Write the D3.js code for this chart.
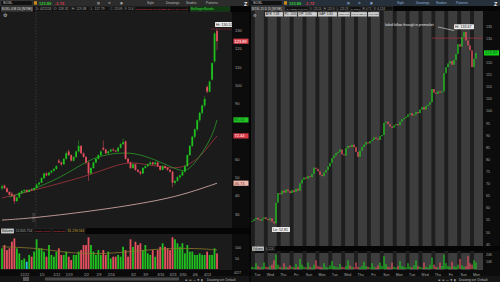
<!DOCTYPE html>
<html>
<head>
<meta charset="utf-8">
<script src="https://cdn.jsdelivr.net/npm/d3@7"></script>
<style>
  body { margin: 0; background: #000; }
  svg { display: block; font-family: "Liberation Sans", Arial, sans-serif; }
</style>
</head>
<body>
<div id="chart"></div>
<script>
// ---------- left chart: daily candles [open, high, low, close]
const dailyOHLC = [
  [44,46,43,45],[45.5,46,43.5,44],[44,44.5,41.5,42],[42,42.5,40,40.5],[41,42,39.5,40],
  [40,40.5,35.5,37],[37,39.5,36.5,39],[39,42,38.5,41.5],[41.5,43,41,42.5],[42.5,43.5,42,43],
  [43,43.5,41.5,42],[42,43.5,41.8,43],[43.3,44,42.5,43],[43,44.5,42.8,44],[44,46.5,43.8,46],
  [46,47.5,45.5,47],[47,50,46.8,49.5],[49.5,52.5,49,52],[52,52.8,50.5,51],[51,53,50.8,52.5],
  [52.5,54,52,53.5],[53.5,55,53,54.5],[54.5,56.5,54,56],[59,60,57.5,58],[58,58.5,56,57],
  [57,60.5,56.8,60],[60,64,59.5,63],[64,65,61.5,62],[62,62.5,58.5,59],[59,61.5,58.5,61],
  [61,64.5,60.5,64],[64,70,63.5,67],[67,67.5,62.5,63],[63,63.5,60.5,61],[61,61.5,57,58],
  [58,58.5,48,52],[52,55.5,51.5,55],[55,58.5,54.5,58],[58,60.5,57.5,60],[60,62.5,59.5,62],
  [62,64.5,61.5,64],[66,70,64.5,65],[65,65.5,62.5,63],[63,64.5,62.5,64],[64,65.5,63.5,65],
  [65,66,64,64.5],[64.5,65,63.5,64],[64,66.5,63.8,66],[66,68.5,65.5,68],[68,71,67.5,69],
  [69.5,70,59.5,60],[60,60.5,57.5,58],[58,58.5,54.5,55],[55,57.5,54.5,57],[57,57.5,53.5,54],
  [54,54.5,52.5,53],[53,53.5,51,52],[52,55.5,51.8,55],[55,56.5,54.5,56],[56,57.5,55.5,57],
  [57,58.5,56.5,58],[58,58.5,56.5,57],[57,58.5,56.8,58],[58,58.5,55.5,56],[56,56.5,53.5,54],
  [54,56.5,53.8,56],[56,56.5,54.5,55],[55,55.5,53.5,54],[54,54.5,52.5,53],[53,53.5,44.5,47],
  [47,48.5,46,48],[48,50.5,47.5,50],[50,51.5,49,51],[51,53.5,50.5,53],[53,56.5,52.5,56],
  [56,62.5,55.5,62],[62,67.5,61.5,67],[67,72.5,66.5,72],[72,76.5,71,76],[76,81.5,75,81],
  [81,85.5,80,85],[85,89.5,84,89],[89,94,88,92.5],[99,100,95.5,96.5],[96.5,102.5,96,102],
  [103,112.5,102.5,112],[113,129,112,128],[129.5,130.52,119,123.89]
]
const dailyVolume = [
  94,109,86,94,124,139,94,71,41,48,33,64,56,79,135,94,94,79,56,109,
  64,56,79,94,64,64,79,56,41,64,64,79,86,109,109,144,109,79,64,86,
  64,86,64,79,48,56,56,64,56,101,86,56,135,101,124,109,117,86,109,71,
  64,86,56,86,101,117,101,94,86,144,135,117,101,117,71,109,79,79,64,64,
  71,64,64,79,64,64,94,71
]
const dailyVolumeMarked = [10]
const dailyVolumeAvg = [[0,101],[15,95],[26,73],[40,68],[50,77],[63,91],[73,95],[83,91],[87,86]]
const dailyTicks = [[9,'12/22'],[16,'1/5'],[22,'1/12'],[27,'1/19'],[34,'2/2'],[39,'2/9'],[44,'2/16'],
  [53,'3/2'],[58,'3/9'],[64,'3/16'],[69,'3/23'],[73,'3/30'],[78,'4/6'],[83,'4/13']]
const leftPriceTicks = [30,40,50,60,70,80,90,100,110,120,130]
const leftVolTicks = [50,100]
const maFast = [[3,39.2],[12,43],[24,50],[33,57.7],[40,62],[50,63.7],[57,62],[64,58.3],[71,54],[75,52.8],[80,61],[85,71.8],[87,81.14]]
const maSlow = [[0,38.7],[13,43],[33,50],[44,55.5],[51,58.3],[57,57.2],[67,55],[73,55],[79,59.3],[84,67.5],[87,72.44]]
const ma200 = [[0,26.7],[13,27.8],[40,32.2],[60,36.5],[73,40.3],[87,46.73]]
const yearBreak = 13.7
const leftHigh = 130.52
const lastPrice = 123.89

// ---------- right chart: 15 minute closes
const rightClose = [
  54.5,55.2,55.8,55.1,54.6,55.4,56.0,55.3,54.8,55.6,54.2,
  53.5,62,66,65.5,67,66.2,67.5,66.8,66,67.2,66.5,67.8,67,
  70,71.5,72.5,72,73,72.6,74,76.5,76,75,73.5,73,74.5,75.5,77,78.5,80.5,81.5,82.5,83,84,82,81.5,84.5,85.5,85,
  86,85,83,81,83.5,85,86,87,86.5,87.5,88,89,88.5,88,89.5,90,
  95,95.5,94.5,93.5,93,94,94.5,94,95.5,96.5,97,97.5,98.5,99,98,98.5,99.5,99,100.5,101.5,100.5,102,102.5,103.5,
  109,107.5,107,108,107.5,108,
  115.5,118,119.5,120.5,119,121,123.5,127.5,126.5,130.5,132.5,129,127,125,118,121.5,123.89
]
const rightVolume = [
  3,2,8,4,2,3,9,3,2,4,6,
  12,20,6,3,2,8,3,2,5,3,2,7,3,
  14,6,3,2,9,3,2,6,12,4,3,2,8,3,2,5,11,4,3,2,7,3,2,4,12,5,3,2,9,3,2,4,10,4,3,2,8,3,2,5,9,4,
  18,7,3,2,9,3,2,4,11,4,3,2,8,3,2,5,12,4,3,2,9,3,2,6,
  16,6,3,2,9,4,
  20,8,4,3,10,4,3,6,14,5,3,4,18,8,6,12,9
]
const rightDays = ['Tue','Wed','Thu','Fri','Sun','Mon','Tue','Wed','Thu','Fri','Sun','Mon','Tue','Wed','Thu','Fri','Sun','Mon']
const rightPriceTicks = d3.range(45, 136, 5)
const rightVolTicks = [10, 20]
const rightHigh = { i: 102, value: 133.67 }
const rightLow = { i: 11, value: 52.81 }
const rightLine = 130

const UP = '#1fbf1f', DOWN = '#e5505e', TXT = '#a8a8a8'
const W = 500, H = 282

const svg = d3.select('#chart').append('svg').attr('width', W).attr('height', H)
svg.append('rect').attr('width', W).attr('height', H).attr('fill', '#0a0a0a')

function label (g, x, y, t, opt = {}) {
  return g.append('text').attr('x', x).attr('y', y).text(t)
    .attr('font-size', opt.size || 4).attr('fill', opt.fill || TXT)
    .attr('text-anchor', opt.anchor || 'start')
    .attr('font-weight', opt.bold ? 'bold' : null)
}
// header box: the text shrinks until it fits its box
function box (g, x, y, w, h, t, bg, fg) {
  g.append('rect').attr('x', x).attr('y', y).attr('width', w).attr('height', h).attr('fill', bg)
    .attr('stroke', '#555').attr('stroke-width', 0.3)
  const size = h - 1.6
  const txt = g.append('text').attr('x', x + 0.8).attr('y', y + h - 1.2).text(t)
    .attr('font-size', size).attr('fill', fg)
  const len = txt.node().getComputedTextLength()
  if (len > w - 1.6) txt.attr('font-size', size * (w - 1.6) / len)
}
function tag (g, x, y, t, bg, fg) {
  g.append('rect').attr('x', x).attr('y', y - 2.6).attr('width', 15).attr('height', 5.2).attr('fill', bg)
  g.append('text').attr('x', x + 1).attr('y', y + 1.5).text(t).attr('font-size', 4).attr('fill', fg)
}
function styleAxis (a, size) {
  a.select('.domain').remove()
  a.selectAll('line').remove()
  a.selectAll('text').attr('fill', TXT).attr('font-size', size || 4).attr('font-family', null)
}
// tick labels hidden behind price tags
function freeTicks (ticks, scale, tags) {
  return ticks.filter(v => !tags.some(t => Math.abs(scale(v) - scale(t)) < 4.5))
}

// ---------- toolbars
function toolbar (x0, w, bg, accent) {
  const g = svg.append('g')
  g.append('rect').attr('x', x0).attr('y', 0).attr('width', w).attr('height', 6).attr('fill', bg)
  g.append('rect').attr('x', x0 + 1).attr('y', 0.8).attr('width', 31).attr('height', 4.5).attr('fill', '#111').attr('stroke', '#555').attr('stroke-width', 0.3)
  label(g, x0 + 3, 4.4, 'SOXL', { size: 3.6, fill: '#ddd' })
  g.append('rect').attr('x', x0 + 34).attr('y', 1.2).attr('width', 3).attr('height', 3.5).attr('fill', '#c98a1a')
  label(g, x0 + 39, 4.6, '123.89', { size: 4, fill: '#2fd32f', bold: true })
  label(g, x0 + 55, 4.6, '-1.72', { size: 4, fill: '#e04050', bold: true })
  const items = ['▤', '⚙', '▣', 'Style', 'Drawings', 'Studies', 'Patterns']
  const xs = [97, 108, 120, 147, 166, 186, 206]
  items.forEach((t, i) => label(g, x0 + xs[i], 4.1, t, { size: 3.2, fill: accent }))
  label(g, x0 + 244, 5.6, 'Z', { size: 5.5, fill: '#eee', bold: true })
}
toolbar(0, 250, '#2c2c2c', '#b8b8b8')
toolbar(250, 250, '#26303b', '#8fb3d9')

// ---------- left chart
const L = { x0: 0, x1: 232, top: 12, bottom: 227, vTop: 235, vBottom: 269 }
const left = svg.append('g')
left.append('rect').attr('x', 0).attr('y', 6).attr('width', 232).attr('height', 264).attr('fill', '#1b1b1b')
left.append('rect').attr('x', 232).attr('y', 6).attr('width', 18).attr('height', 264).attr('fill', '#0c0c0c')

const lx = d3.scaleLinear().domain([0, dailyOHLC.length - 1]).range([2, 217])
const ly = d3.scaleLinear().domain([30, 130]).range([214, 30])
const lv = d3.scaleLinear().domain([0, 150]).range([L.vBottom, L.vBottom - 33])

// header row
left.append('rect').attr('x', 0).attr('y', 6).attr('width', 250).attr('height', 6).attr('fill', '#050505')
box(left, 1, 6.5, 32, 5, 'SOXL 4 M 1D [NYSE]', '#3a3a3a', '#ddd')
box(left, 35, 6.5, 17, 5, 'D: 4/22/24', '#111', TXT)
box(left, 53, 6.5, 17, 5, 'O: 118.32', '#111', TXT)
box(left, 71, 6.5, 18, 5, 'H: 129.38', '#111', TXT)
box(left, 90, 6.5, 19, 5, 'L: 117.79', '#111', TXT)
box(left, 110, 6.5, 13, 5, 'C: 123.89', '#111', TXT)
box(left, 124, 6.5, 10, 5, 'V: 11.6', '#111', TXT)
box(left, 135, 6.5, 53, 5, 'SimpleMovingAvg (CLOSE, 200, 0, no): 46.73', '#111', '#e0404a')
box(left, 190, 6.5, 40, 5, 'BollingerBands', '#0f3a12', '#3fdc3f')
label(left, 2.5, 16.5, '⚙', { size: 4.5, fill: '#ccc' })

// year break
left.append('line').attr('x1', lx(yearBreak)).attr('x2', lx(yearBreak)).attr('y1', 12).attr('y2', 227)
  .attr('stroke', '#555').attr('stroke-width', 0.5).attr('stroke-dasharray', '1.5,1.5')
left.append('text').attr('transform', `translate(${lx(yearBreak) - 0.5},222) rotate(-90)`)
  .text('1/1/24').attr('font-size', 3.4).attr('fill', '#666')

// moving averages
const maLine = d3.line().x(d => lx(d[0])).y(d => ly(d[1])).curve(d3.curveBasis)
left.append('path').attr('d', maLine(ma200)).attr('fill', 'none').attr('stroke', '#c9a3a0').attr('stroke-width', 0.9)
left.append('path').attr('d', maLine(maSlow)).attr('fill', 'none').attr('stroke', '#a3343d').attr('stroke-width', 0.8)
left.append('path').attr('d', maLine(maFast)).attr('fill', 'none').attr('stroke', '#2a9a2a').attr('stroke-width', 0.8)

// candles
const lc = left.append('g').selectAll('g').data(dailyOHLC).join('g')
lc.append('line')
  .attr('x1', (d, i) => lx(i)).attr('x2', (d, i) => lx(i))
  .attr('y1', d => ly(d[1])).attr('y2', d => ly(d[2]))
  .attr('stroke', d => d[3] >= d[0] ? UP : DOWN).attr('stroke-width', 0.5)
lc.append('rect')
  .attr('x', (d, i) => lx(i) - 0.9).attr('width', 1.8)
  .attr('y', d => ly(Math.max(d[0], d[3])))
  .attr('height', d => Math.max(0.6, Math.abs(ly(d[0]) - ly(d[3]))))
  .attr('fill', d => d[3] >= d[0] ? UP : DOWN)

// high bubble + line
left.append('line').attr('x1', 211).attr('x2', 232).attr('y1', ly(leftHigh)).attr('y2', ly(leftHigh))
  .attr('stroke', '#d03040').attr('stroke-width', 0.6).attr('stroke-dasharray', '1,0.6')
left.append('rect').attr('x', 215).attr('y', ly(leftHigh) - 7).attr('width', 17).attr('height', 5).attr('fill', '#e8e8e8').attr('rx', 0.6)
label(left, 216, ly(leftHigh) - 3.2, 'Hi: ' + leftHigh, { size: 3.6, fill: '#222' })

// price axis
const leftTags = [lastPrice, maFast[maFast.length - 1][1], maSlow[maSlow.length - 1][1], ma200[ma200.length - 1][1]]
const lAxis = left.append('g').attr('transform', 'translate(235,0)')
  .call(d3.axisRight(ly).tickValues(freeTicks(leftPriceTicks, ly, leftTags)).tickSize(0).tickPadding(0))
styleAxis(lAxis)
tag(left, 233.5, ly(leftTags[0]), leftTags[0].toFixed(2), '#d9434f', '#fff')
tag(left, 233.5, ly(leftTags[1]), leftTags[1].toFixed(2), '#22c322', '#062')
tag(left, 233.5, ly(leftTags[2]), leftTags[2].toFixed(2), '#d93a46', '#fff')
tag(left, 233.5, ly(leftTags[3]), leftTags[3].toFixed(2), '#f0b9ae', '#733')

// volume pane
left.append('rect').attr('x', 0).attr('y', 228).attr('width', 250).attr('height', 6).attr('fill', '#050505')
box(left, 1, 228.5, 13, 5, 'Volume', '#c8c8c8', '#111')
box(left, 15, 228.5, 18, 5, '13,805,754', '#111', TXT)
box(left, 34, 228.5, 17, 5, 'VolumeAvg (50)', '#111', '#e0404a')
box(left, 52, 228.5, 14, 5, '13,805,754', '#111', '#e0404a')
box(left, 67, 228.5, 18, 5, '81,299,563', '#111', '#c7a93a')
left.append('g').selectAll('rect').data(dailyVolume).join('rect')
  .attr('x', (d, i) => lx(i) - 0.9).attr('width', 1.8)
  .attr('y', d => lv(d)).attr('height', d => L.vBottom - lv(d))
  .attr('fill', (d, i) => dailyVolumeMarked.includes(i) ? '#27c4e8'
    : dailyOHLC[i][3] >= dailyOHLC[i][0] ? UP : DOWN)
left.append('path').attr('d', d3.line().x(d => lx(d[0])).y(d => lv(d[1])).curve(d3.curveBasis)(dailyVolumeAvg))
  .attr('fill', 'none').attr('stroke', '#8a7a2c').attr('stroke-width', 0.8)
const lvAxis = left.append('g').attr('transform', 'translate(235,0)')
  .call(d3.axisRight(lv).tickValues(leftVolTicks).tickSize(0).tickPadding(0))
styleAxis(lvAxis, 3.6)

// date axis
const lxAxis = left.append('g').attr('transform', 'translate(0,270)')
  .call(d3.axisBottom(lx).tickValues(dailyTicks.map(d => d[0]))
    .tickFormat(v => dailyTicks.find(d => d[0] === v)[1]).tickSize(0).tickPadding(3))
styleAxis(lxAxis, 3.6)
label(left, 234, 274, '4/27', { size: 3.6 })

// bottom bar
left.append('rect').attr('x', 0).attr('y', 276).attr('width', 250).attr('height', 6).attr('fill', '#151515')
left.append('rect').attr('x', 23).attr('y', 277).attr('width', 6).attr('height', 4).attr('fill', '#555')
left.append('rect').attr('x', 45).attr('y', 277.5).attr('width', 134).attr('height', 3).attr('fill', '#4a4a4a')
label(left, 185, 280.5, '⊕ ⊖ ▭ ✥ ▮', { size: 3.2, fill: '#bbb' })
label(left, 207, 280.5, 'Drawing set: Default', { size: 3.2, fill: '#bbb' })

// ---------- right chart
const R = { x0: 251, x1: 483, top: 11, bottom: 246, vTop: 251, vBottom: 269 }
const right = svg.append('g')
right.append('rect').attr('x', 250).attr('y', 6).attr('width', 250).attr('height', 270).attr('fill', '#0c0c0c')

const rx = d3.scaleLinear().domain([0, rightClose.length - 1]).range([252, 476])
const ry = d3.scaleLinear().domain([45, 135]).range([244, 26])
const rv = d3.scaleLinear().domain([0, 25]).range([R.vBottom, R.vTop])
const rDay = d3.scaleBand().domain(d3.range(rightDays.length)).range([R.x0, R.x1])

// session shading
right.append('rect').attr('x', R.x0).attr('y', R.top).attr('width', R.x1 - R.x0).attr('height', R.bottom - R.top).attr('fill', '#3d3d3d')
right.append('rect').attr('x', R.x0).attr('y', 253).attr('width', R.x1 - R.x0).attr('height', 17).attr('fill', '#3d3d3d')
right.append('g').selectAll('rect').data(d3.range(rightDays.length)).join('rect')
  .attr('x', d => rDay(d)).attr('width', rDay.bandwidth() * 0.3)
  .attr('y', R.top).attr('height', 259).attr('fill', '#1e1e1e')

// header rows
right.append('rect').attr('x', 250).attr('y', 6).attr('width', 250).attr('height', 5).attr('fill', '#050505')
box(right, 251, 6.3, 34, 4.6, 'SOXL 15 D 15 [NYSE]', '#3a3a3a', '#ddd')
box(right, 286, 6.3, 22, 4.6, 'D: 4/23/24 6:00 PM', '#111', TXT)
box(right, 309, 6.3, 13, 4.6, 'O: 123.24', '#111', TXT)
box(right, 323, 6.3, 12, 4.6, 'H: 123.9', '#111', TXT)
box(right, 336, 6.3, 13, 4.6, 'L: 123.19', '#111', TXT)
box(right, 350, 6.3, 11, 4.6, 'C: 123.9', '#111', TXT)
box(right, 362, 6.3, 10, 4.6, 'R: 0.71', '#111', TXT)
box(right, 373, 6.3, 20, 4.6, 'V: 6,124', '#111', TXT)
label(right, 253, 16.5, '⚙', { size: 4.2, fill: '#ccc' })
const infoBoxes = [['ATR: 7.08', 265, 18], ['PC: -0.65', 284, 13], ['OP: -0.65', 298, 19], ['GAP: 5.64', 318, 19],
  ['HROI: 7.63', 338, 12], ['VWAP: 125.99', 351, 16], ['H/L%: 8.83', 368, 11]]
infoBoxes.forEach(b => box(right, b[1], 12, b[2], 4.6, b[0], '#cfcfcf', '#111'))

// resistance line + note
right.append('line').attr('x1', 432).attr('x2', 483).attr('y1', ry(rightLine)).attr('y2', ry(rightLine))
  .attr('stroke', '#c8323e').attr('stroke-width', 0.6)
label(right, 385, 25.5, 'failed follow through in premarket', { size: 3.3, fill: '#e6e6e6' })
right.append('line').attr('x1', 438).attr('y1', 27).attr('x2', 454).attr('y2', 30.5)
  .attr('stroke', '#e0e0e0').attr('stroke-width', 0.6)

// candles (bodies from previous close)
right.append('g').selectAll('rect').data(rightClose).join('rect')
  .attr('x', (d, i) => rx(i) - 0.7).attr('width', 1.4)
  .attr('y', (d, i) => ry(Math.max(d, i ? rightClose[i - 1] : d)))
  .attr('height', (d, i) => Math.max(0.8, Math.abs(ry(d) - ry(i ? rightClose[i - 1] : d))))
  .attr('fill', (d, i) => (i && d < rightClose[i - 1]) ? DOWN : UP)

// hi / lo bubbles
right.append('rect').attr('x', rx(rightHigh.i) - 2).attr('y', ry(rightHigh.value) - 5).attr('width', 20).attr('height', 5).attr('fill', '#e8e8e8').attr('rx', 0.6)
label(right, rx(rightHigh.i) - 1, ry(rightHigh.value) - 1.3, 'Hi: ' + rightHigh.value, { size: 3.6, fill: '#222' })
right.append('rect').attr('x', rx(rightLow.i) - 2).attr('y', ry(rightLow.value) + 2).attr('width', 18).attr('height', 5).attr('fill', '#e8e8e8').attr('rx', 0.6)
label(right, rx(rightLow.i) - 1, ry(rightLow.value) + 5.8, 'Lo: ' + rightLow.value, { size: 3.6, fill: '#222' })

// price axis
const rAxis = right.append('g').attr('transform', 'translate(486,0)')
  .call(d3.axisRight(ry).tickValues(freeTicks(rightPriceTicks, ry, [lastPrice])).tickSize(0).tickPadding(0))
styleAxis(rAxis, 3.6)
tag(right, 484, ry(lastPrice), lastPrice.toFixed(2), '#18d018', '#053')

// volume pane
right.append('rect').attr('x', 250).attr('y', 246).attr('width', 250).attr('height', 5).attr('fill', '#050505')
box(right, 252, 246.3, 12, 4.6, 'Volume', '#c8c8c8', '#111')
box(right, 265, 246.3, 10, 4.6, '6,124', '#111', TXT)
right.append('g').selectAll('rect').data(rightVolume).join('rect')
  .attr('x', (d, i) => rx(i) - 0.6).attr('width', 1.2)
  .attr('y', d => rv(d)).attr('height', d => R.vBottom - rv(d))
  .attr('fill', (d, i) => (i && rightClose[i] < rightClose[i - 1]) ? DOWN : UP)
const rvAxis = right.append('g').attr('transform', 'translate(486,0)')
  .call(d3.axisRight(rv).tickValues(rightVolTicks).tickSize(0).tickPadding(0).tickFormat(d => d + 'K'))
styleAxis(rvAxis, 3.4)

// day axis
const rxAxis = right.append('g').attr('transform', 'translate(0,270)')
  .call(d3.axisBottom(rDay).tickFormat(i => rightDays[i]).tickSize(0).tickPadding(3))
styleAxis(rxAxis, 3.6)

// bottom bar
right.append('rect').attr('x', 250).attr('y', 276).attr('width', 250).attr('height', 6).attr('fill', '#151515')
label(right, 438, 280.5, '⊕ ⊖ ▭ ✥ ▮', { size: 3.2, fill: '#bbb' })
label(right, 459, 280.5, 'Drawing set: Default', { size: 3.2, fill: '#bbb' })

// split line
svg.append('line').attr('x1', 250).attr('x2', 250).attr('y1', 0).attr('y2', H).attr('stroke', '#000').attr('stroke-width', 1)
</script>
</body>
</html>
